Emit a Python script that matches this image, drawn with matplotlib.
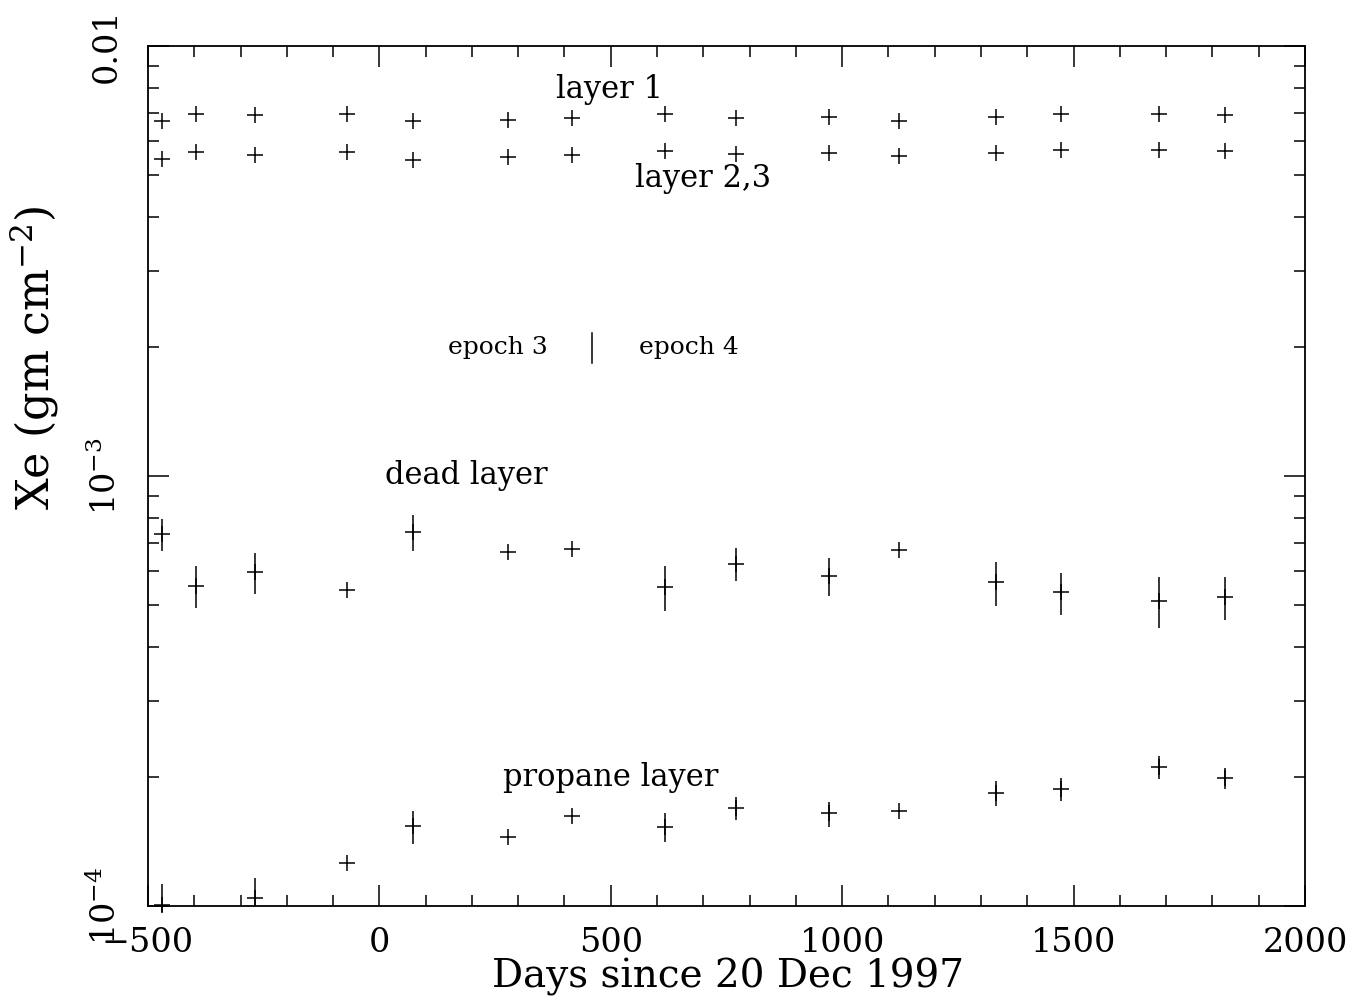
import numpy as np
import matplotlib
matplotlib.use('Agg')
import matplotlib.pyplot as plt
from matplotlib.ticker import FixedLocator, MultipleLocator, LogLocator, NullFormatter

plt.rcParams['font.family'] = 'DejaVu Serif'
plt.rcParams['mathtext.fontset'] = 'dejavuserif'

# observation days (since 20 Dec 1997)
days = [-470, -397, -268, -70, 72, 277, 416, 618, 771, 971, 1123, 1333, 1472, 1684, 1827]

# Xe column density, gm cm^-2
layer1 = [6.69e-3, 6.94e-3, 6.91e-3, 6.94e-3, 6.68e-3, 6.72e-3, 6.79e-3, 6.94e-3,
          6.79e-3, 6.85e-3, 6.70e-3, 6.85e-3, 6.94e-3, 6.94e-3, 6.92e-3]
layer23 = [5.46e-3, 5.68e-3, 5.58e-3, 5.68e-3, 5.43e-3, 5.53e-3, 5.58e-3, 5.70e-3,
           5.62e-3, 5.65e-3, 5.55e-3, 5.65e-3, 5.74e-3, 5.73e-3, 5.69e-3]

dead = [7.33e-4, 5.55e-4, 5.97e-4, 5.44e-4, 7.42e-4, 6.65e-4, 6.75e-4, 5.53e-4,
        6.25e-4, 5.86e-4, 6.73e-4, 5.66e-4, 5.36e-4, 5.13e-4, 5.22e-4]
dead_lo = [6.69e-4, 4.92e-4, 5.33e-4, 5.44e-4, 6.70e-4, 6.65e-4, 6.75e-4, 4.86e-4,
           5.69e-4, 5.25e-4, 6.73e-4, 4.98e-4, 4.75e-4, 4.42e-4, 4.62e-4]
dead_hi = [7.94e-4, 6.17e-4, 6.61e-4, 5.44e-4, 8.11e-4, 6.65e-4, 6.75e-4, 6.17e-4,
           6.79e-4, 6.46e-4, 6.73e-4, 6.32e-4, 5.96e-4, 5.81e-4, 5.81e-4]

propane = [1.003e-4, np.nan, 1.045e-4, 1.257e-4, 1.535e-4, 1.445e-4, 1.619e-4, 1.529e-4,
           1.690e-4, 1.643e-4, 1.666e-4, 1.834e-4, 1.874e-4, 2.102e-4, 1.982e-4]
propane_lo = [0.968e-4, np.nan, 1.0e-4, 1.257e-4, 1.394e-4, 1.445e-4, 1.619e-4, 1.406e-4,
              1.585e-4, 1.529e-4, 1.666e-4, 1.708e-4, 1.757e-4, 1.971e-4, 1.871e-4]
propane_hi = [1.123e-4, np.nan, 1.160e-4, 1.257e-4, 1.663e-4, 1.445e-4, 1.619e-4, 1.648e-4,
              1.790e-4, 1.748e-4, 1.666e-4, 1.956e-4, 1.988e-4, 2.233e-4, 2.090e-4]

epoch_boundary = 460

x = np.array(days)

fig = plt.figure(figsize=(13.55, 10.06), dpi=100)
ax = fig.add_axes([0.1092, 0.0994, 0.8539, 0.8549])

style = dict(fmt='+', color='black', markersize=11, markeredgewidth=1.1,
             elinewidth=1.1, capsize=0)

ax.errorbar(x, layer1, **style)
ax.errorbar(x, layer23, **style)

d = np.array(dead)
ax.errorbar(x, d, yerr=[d - np.array(dead_lo), np.array(dead_hi) - d], **style)

p = np.array(propane)
pl = ax.errorbar(x, p, yerr=[p - np.array(propane_lo), np.array(propane_hi) - p], **style)
for art in pl.get_children():
    art.set_clip_on(False)

ax.set_yscale('log')
ax.set_xlim(-500, 2000)
ax.set_ylim(1e-4, 1e-2)

# labels on the curves
ax.text(498, 7.9e-3, 'layer 1', fontsize=22, ha='center', va='center')
ax.text(699, 4.93e-3, 'layer 2,3', fontsize=22, ha='center', va='center')
ax.text(187, 1.0e-3, 'dead layer', fontsize=22, ha='center', va='center')
ax.text(500, 1.985e-4, 'propane layer', fontsize=22, ha='center', va='center')
ax.text(256, 1.985e-3, 'epoch 3', fontsize=18, ha='center', va='center')
ax.text(668, 1.985e-3, 'epoch 4', fontsize=18, ha='center', va='center')
ax.plot([epoch_boundary, epoch_boundary], [1.83e-3, 2.15e-3], color='black', lw=1.1)

# ticks
ax.xaxis.set_major_locator(MultipleLocator(500))
ax.xaxis.set_minor_locator(MultipleLocator(100))
ax.yaxis.set_major_locator(FixedLocator([1e-4, 1e-3, 1e-2]))
ax.yaxis.set_minor_locator(LogLocator(base=10, subs=np.arange(2, 10)))
ax.yaxis.set_minor_formatter(NullFormatter())
ax.set_yticklabels([r'$10^{-4}$', r'$10^{-3}$', '0.01'])
for lab in ax.get_yticklabels():
    lab.set_rotation(90)
    lab.set_va('center')

ax.tick_params(which='both', direction='in', top=True, right=True, colors='black')
ax.tick_params(which='major', length=15, width=1.1, labelsize=24)
ax.tick_params(which='minor', length=8, width=1.1)
ax.tick_params(axis='x', which='major', pad=15)
ax.tick_params(axis='y', which='major', pad=18)
for s in ax.spines.values():
    s.set_linewidth(1.3)

ax.set_xlabel('Days since 20 Dec 1997', fontsize=28)
ax.set_ylabel(r'Xe (gm cm$^{-2}$)', fontsize=32)
ax.xaxis.set_label_coords(0.501, -0.061)
ax.yaxis.set_label_coords(-0.075, 0.638)

fig.savefig('out.png', dpi=100)
